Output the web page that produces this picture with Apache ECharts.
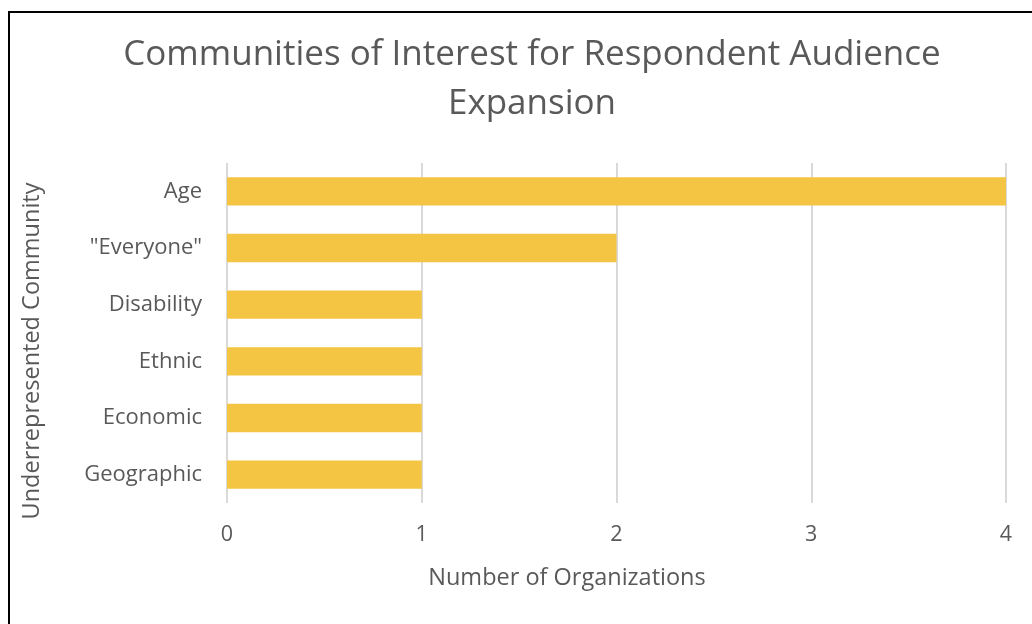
<!DOCTYPE html>
<html>
<head>
<meta charset="utf-8">
<script src="https://cdn.jsdelivr.net/npm/echarts@6/dist/echarts.min.js"></script>
<style>
  html, body { margin: 0; padding: 0; background: #fff; }
  #chart { width: 1032px; height: 624px; position: relative; }
  #frame { position: absolute; left: 8px; top: 11px; width: 1040px; height: 640px;
           border: 2px solid #000; box-sizing: border-box; pointer-events: none; }
</style>
</head>
<body>
<div id="chart"></div>
<div id="frame"></div>
<script>
// Communities named by organisations, and how many organisations named each
const categories = ['Age', '"Everyone"', 'Disability', 'Ethnic', 'Economic', 'Geographic'];
const organizationCounts = [4, 2, 1, 1, 1, 1];
const xTicks = [0, 1, 2, 3, 4];

const FONT = '"Open Sans", "Noto Sans", sans-serif';
const TEXT = '#595959';

const chart = echarts.init(document.getElementById('chart'), null, { renderer: 'canvas' });
chart.setOption({
  animation: false,
  backgroundColor: '#ffffff',
  title: {
    text: 'Communities of Interest for Respondent Audience\nExpansion',
    left: 527, top: 26, textAlign: 'center',
    textStyle: { fontFamily: FONT, fontSize: 35, fontWeight: 'normal', color: TEXT, lineHeight: 49 }
  },
  grid: { left: 227, right: 26, top: 163, bottom: 121, containLabel: false },
  xAxis: {
    type: 'value',
    min: xTicks[0], max: xTicks[xTicks.length - 1], interval: 1,
    axisLine: { show: false },
    axisTick: { show: false },
    splitLine: { show: true, lineStyle: { color: '#d9d9d9', width: 2 } },
    axisLabel: { margin: 21, fontFamily: FONT, fontSize: 21.5, color: TEXT }
  },
  yAxis: {
    type: 'category',
    data: categories,
    inverse: true,
    axisLine: { show: false },
    axisTick: { show: false },
    splitLine: { show: false },
    axisLabel: { margin: 25, fontFamily: FONT, fontSize: 22, color: TEXT }
  },
  graphic: [
    {
      type: 'text', x: 567, y: 578,
      style: { text: 'Number of Organizations', fontFamily: FONT, fontSize: 23.5,
               fill: TEXT, align: 'center', verticalAlign: 'middle' }
    },
    {
      type: 'text', x: 32, y: 351, rotation: Math.PI / 2,
      style: { text: 'Underrepresented Community', fontFamily: FONT, fontSize: 23.5,
               fill: TEXT, align: 'center', verticalAlign: 'middle' }
    }
  ],
  series: [{
    type: 'bar',
    data: organizationCounts,
    barCategoryGap: '50%',
    itemStyle: { color: '#F4C443' }
  }]
});
</script>
</body>
</html>
